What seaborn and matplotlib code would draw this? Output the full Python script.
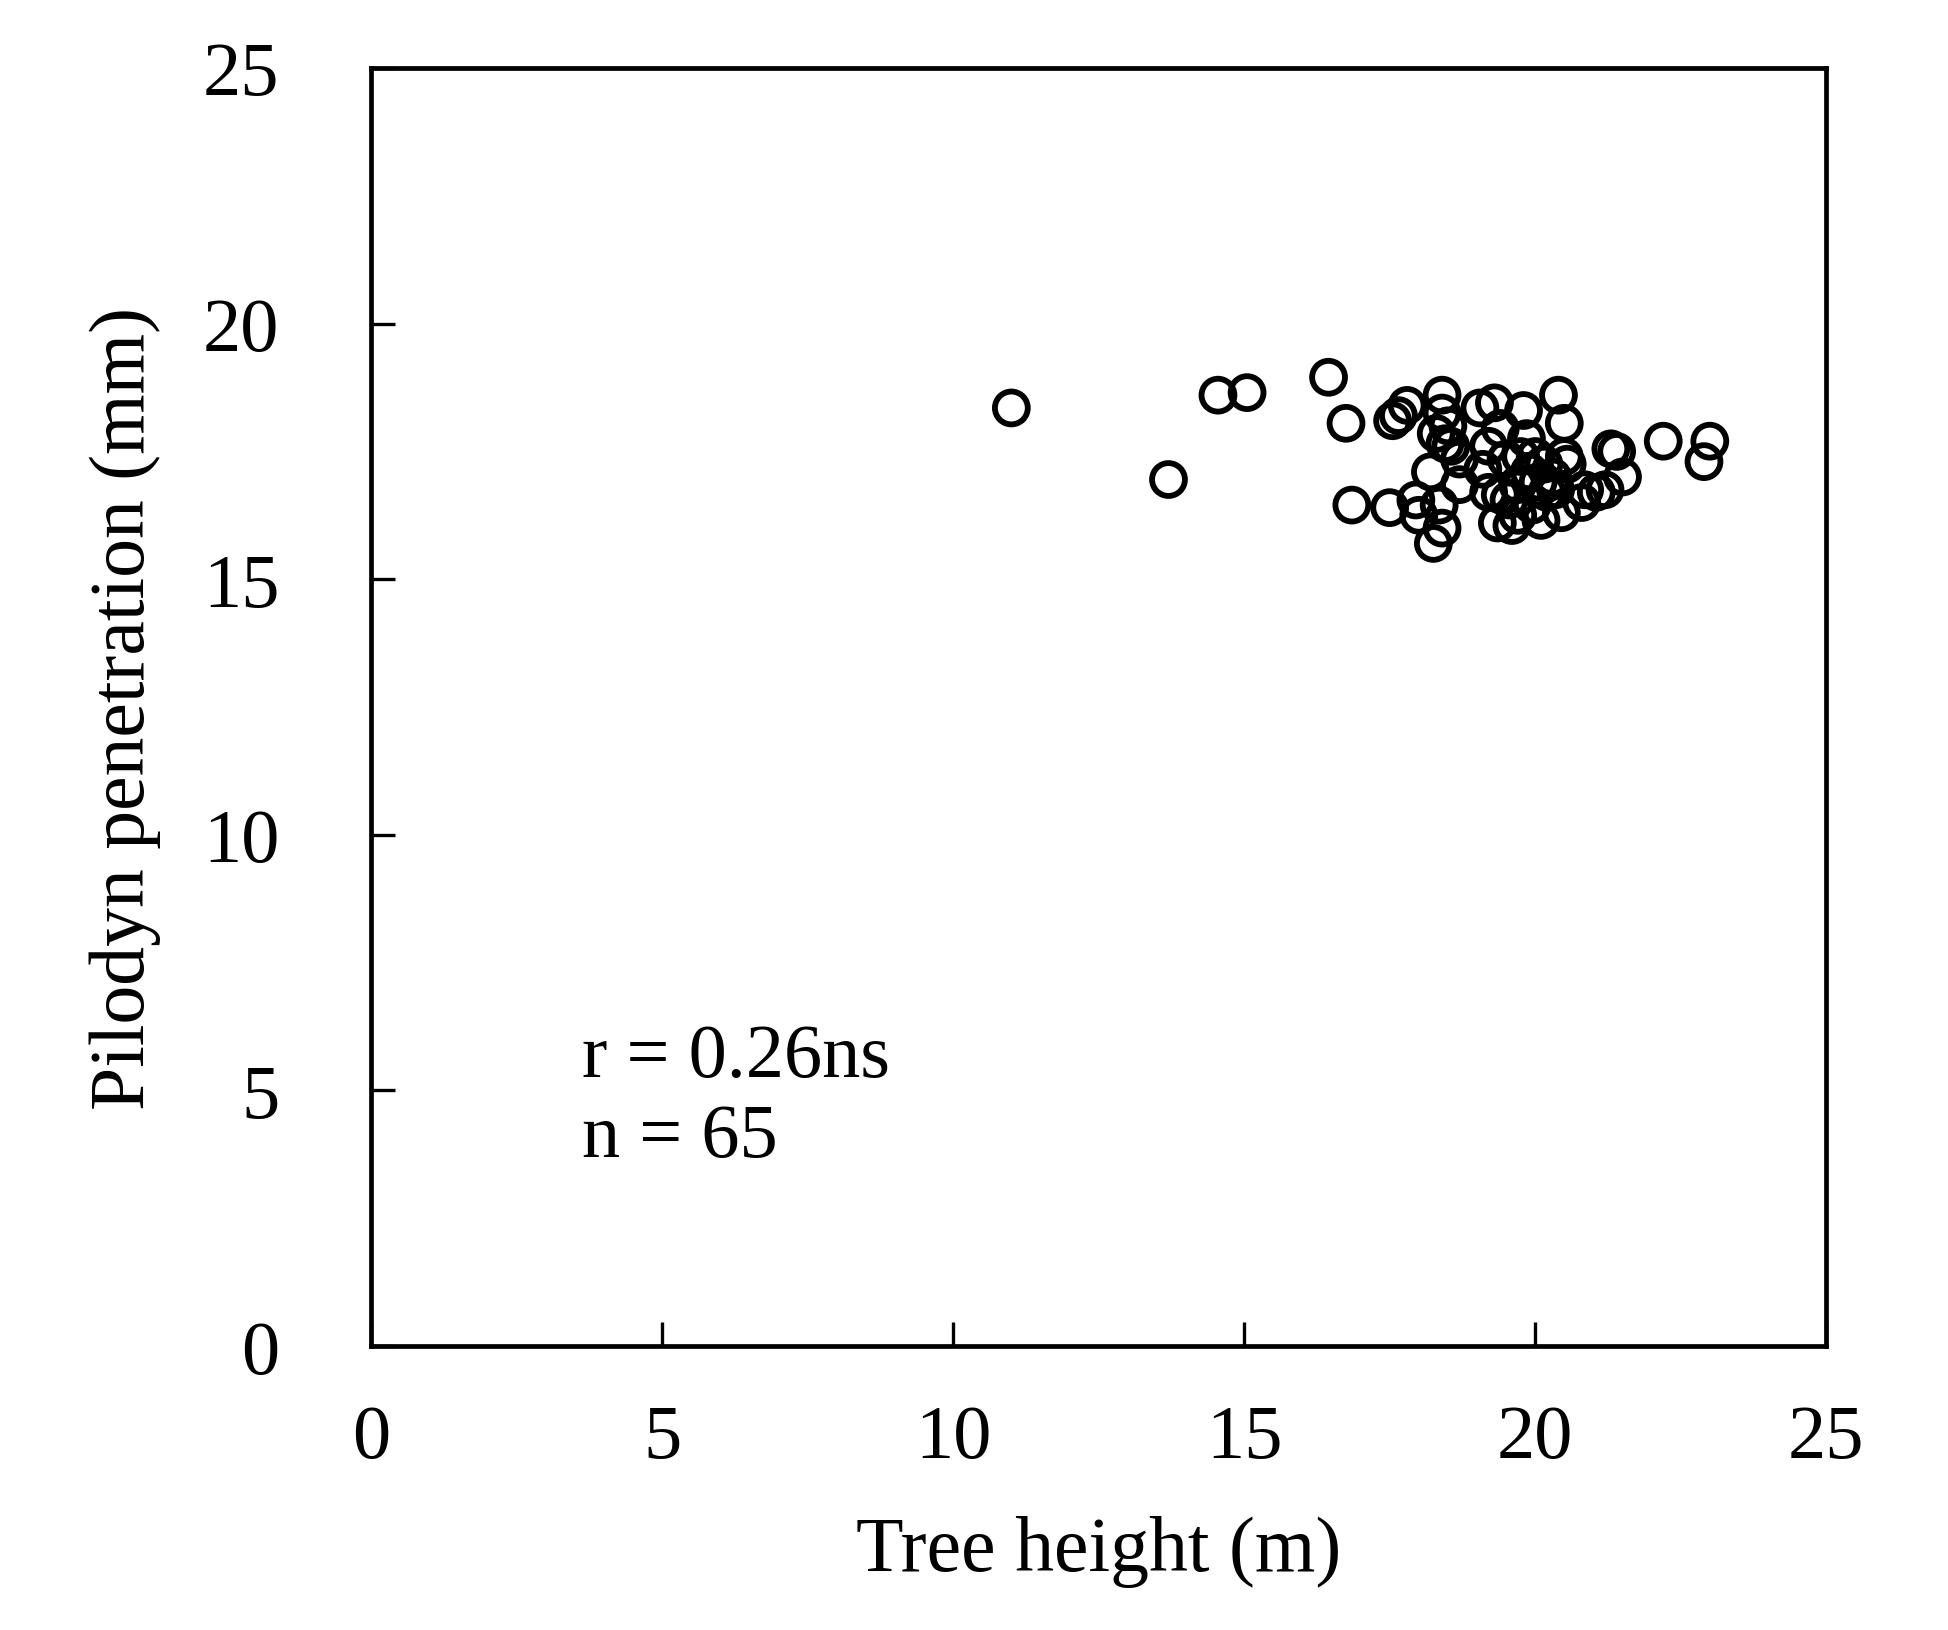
import seaborn as sns
import matplotlib.pyplot as plt
import pandas as pd

# tree height (m) and pilodyn penetration (mm)
height = [11.0, 13.7, 14.55, 15.05, 16.45, 16.75, 16.85,
          17.5, 17.55, 17.65, 17.8, 17.95, 18.0, 18.2, 18.25, 18.35, 18.4,
          18.4, 18.4, 18.3, 18.45, 18.5, 18.7, 18.7, 19.05, 19.2, 19.2,
          19.35, 19.3, 19.4, 19.5, 19.4, 19.6, 19.7, 19.7, 19.8, 19.85,
          19.9, 19.75, 20.0, 20.05, 19.95, 20.1, 20.2, 20.3, 20.4, 20.5,
          20.5, 20.35, 20.45, 20.55, 20.8, 20.85, 21.05, 21.2, 21.3, 21.4,
          21.5, 22.2, 23.0, 22.9, 19.1, 18.55, 20.15, 19.55]
pilodyn = [18.35, 16.95, 18.6, 18.65, 18.95, 18.05, 16.45,
           16.4, 18.1, 18.2, 18.4, 16.55, 16.25, 17.1, 15.7, 16.45, 16.0,
           18.6, 18.25, 17.85, 17.65, 18.0, 17.35, 16.85, 18.35, 17.6, 16.7,
           16.1, 18.45, 17.95, 17.35, 16.65, 16.05, 16.25, 16.85, 18.3, 17.75,
           17.1, 17.4, 17.4, 16.9, 16.45, 16.15, 16.7, 17.0, 18.6, 18.05,
           17.4, 16.75, 16.3, 17.25, 16.5, 16.75, 16.7, 16.75, 17.55, 17.5,
           17.0, 17.7, 17.7, 17.3, 17.15, 17.6, 17.25, 16.55]

ticks = [0, 5, 10, 15, 20, 25]
note_lines = ["r = 0.26ns", "n = 65"]

df = pd.DataFrame({"height": height, "pilodyn": pilodyn})

sns.set_style("ticks")
plt.rcParams["font.family"] = ["Liberation Serif", "DejaVu Serif"]
plt.rcParams["text.color"] = "black"
plt.rcParams["axes.labelcolor"] = "black"
plt.rcParams["xtick.color"] = "black"
plt.rcParams["ytick.color"] = "black"

fig = plt.figure(figsize=(19.49, 16.31), dpi=100)
ax = fig.add_axes([0.1904, 0.1741, 0.7466, 0.7836])

sns.scatterplot(data=df, x="height", y="pilodyn", ax=ax, marker="o",
                s=560, facecolors="none", edgecolor="black", linewidth=4.2)

ax.set_xlim(0, 25)
ax.set_ylim(0, 25)
ax.set_xticks(ticks)
ax.set_yticks(ticks)
ax.tick_params(direction="in", length=17, width=2.4, labelsize=55,
               top=False, right=False)
ax.tick_params(axis="x", pad=42)
ax.tick_params(axis="y", pad=66)
for sp in ax.spines.values():
    sp.set_linewidth(3.4)
    sp.set_color("black")

ax.set_xlabel("Tree height (m)", fontsize=56, labelpad=30)
ax.set_ylabel("Pilodyn penetration (mm)", fontsize=56, labelpad=30)

ax.text(3.63, 5.64, note_lines[0], fontsize=55, ha="left", va="center")
ax.text(3.63, 4.07, note_lines[1], fontsize=55, ha="left", va="center")

fig.savefig("out.png", dpi=100)
